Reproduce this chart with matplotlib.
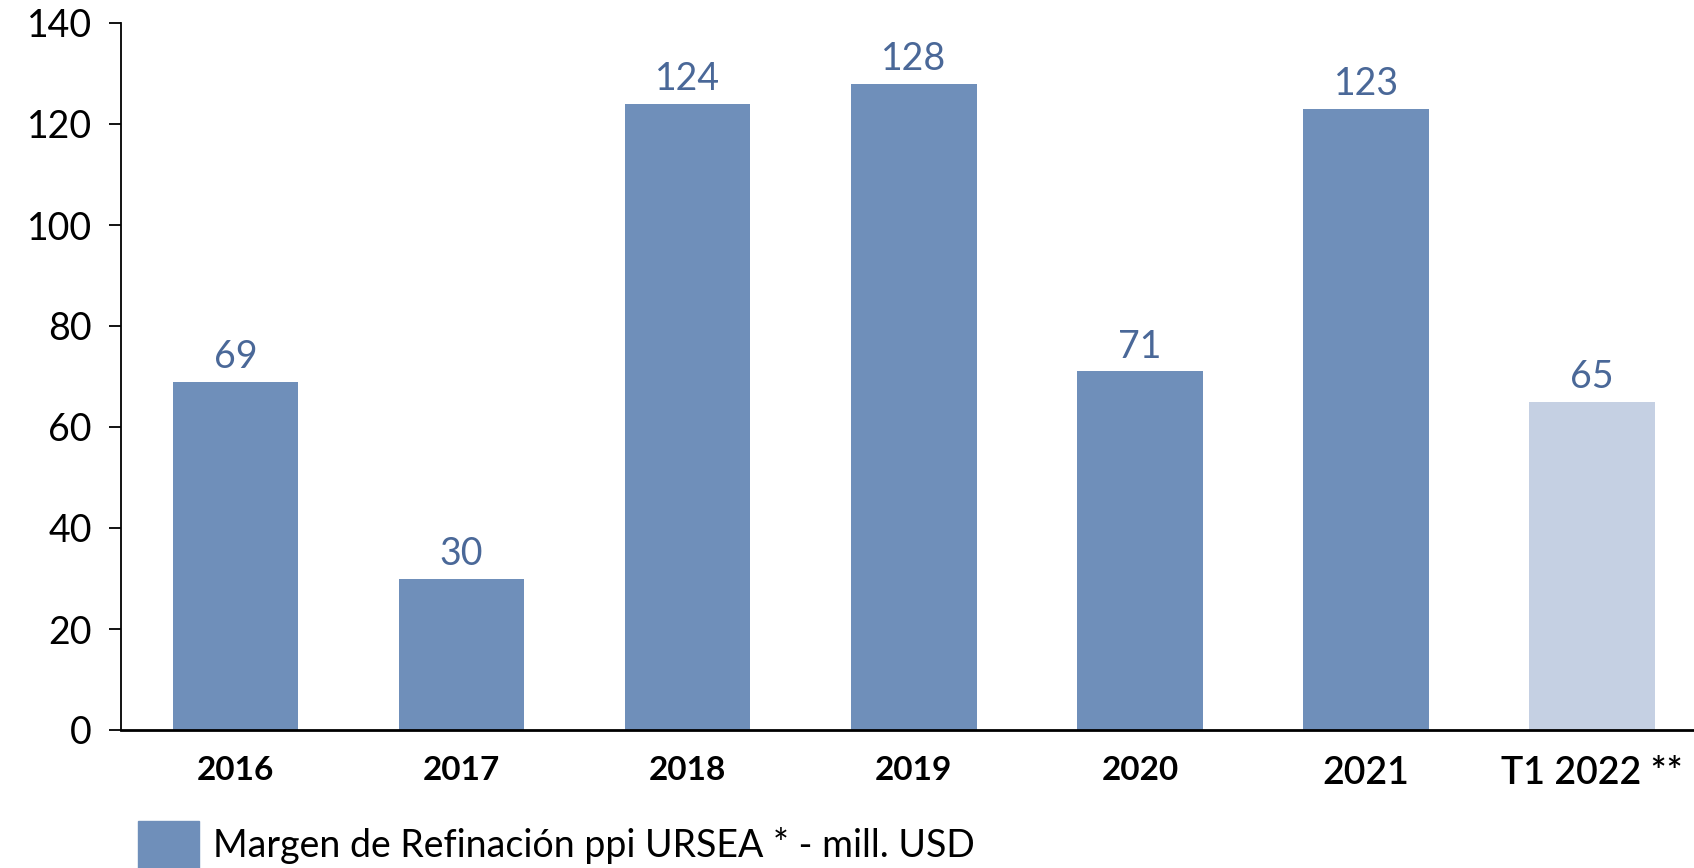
import matplotlib.pyplot as plt
from matplotlib.patches import Rectangle

plt.rcParams['font.family'] = ['Lato', 'DejaVu Sans']

categories = ['2016', '2017', '2018', '2019', '2020', '2021', 'T1 2022 **']
values = [69, 30, 124, 128, 71, 123, 65]
bar_colors = ['#6F8FBA'] * 6 + ['#C5D0E3']
legend_label = 'Margen de Refinación ppi URSEA * - mill. USD'

W, H = 1694, 868
fig = plt.figure(figsize=(W / 100, H / 100), dpi=100)
ax = fig.add_axes([121 / W, (H - 730) / H, (W - 121) / W, (730 - 23) / H])

x = range(len(categories))
ax.bar(x, values, width=0.555, color=bar_colors)

for xi, v in zip(x, values):
    ax.annotate(str(v), (xi, v), xytext=(0, 5), textcoords='offset points',
                ha='center', va='bottom', fontsize=27, color='#4A6898')

ax.set_xlim(-0.506, 6.45)
ax.set_ylim(0, 140)
ax.set_yticks(range(0, 141, 20))
ax.tick_params(axis='y', labelsize=27, length=9, width=1.3, pad=12)
ax.tick_params(axis='x', length=0, pad=19)
ax.set_xticks(list(x))
ax.set_xticklabels(categories)
for i, lab in enumerate(ax.get_xticklabels()):
    if i < 5:
        lab.set_fontsize(24)
        lab.set_fontweight('bold')
    else:
        lab.set_fontsize(27)
        lab.set_fontweight('semibold')

for s in ['top', 'right']:
    ax.spines[s].set_visible(False)
ax.spines['left'].set_linewidth(1.3)
ax.spines['bottom'].set_linewidth(2)

# legend
fig.patches.append(Rectangle((138 / W, 0), 61 / W, 47 / H, transform=fig.transFigure,
                             color='#6F8FBA'))
fig.text(213 / W, (H - 845) / H, legend_label, fontsize=27, va='center', ha='left')

fig.savefig('out.png', dpi=100)
